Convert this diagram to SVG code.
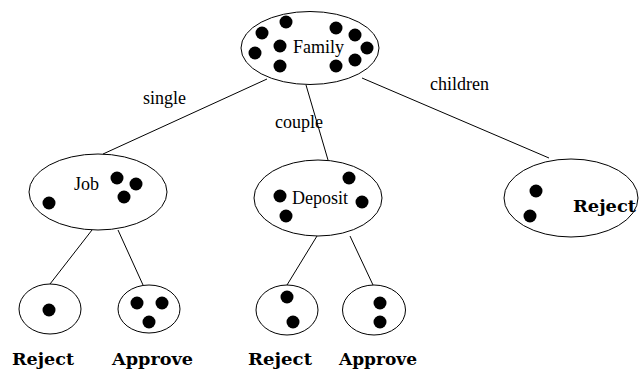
<svg xmlns="http://www.w3.org/2000/svg" width="639" height="370" viewBox="0 0 639 370">
<style>
.n{fill:none;stroke:#000;stroke-width:1}
.d{fill:#000}
.t{font-family:"Liberation Serif","Times New Roman",Times,serif;font-size:18px;fill:#000}
.b{font-family:"DejaVu Serif",serif;font-weight:bold;font-size:17px;fill:#000}
.e{stroke:#000;stroke-width:1;fill:none}
</style>
<rect width="639" height="370" fill="#fff"/>
<g id="connectors">
<line class="e" x1="267" y1="79" x2="103" y2="154"/>
<line class="e" x1="306" y1="85" x2="328" y2="160"/>
<line class="e" x1="362" y1="78" x2="549" y2="158"/>
<line class="e" x1="92" y1="230" x2="50" y2="284"/>
<line class="e" x1="118" y1="230" x2="143" y2="285"/>
<line class="e" x1="317" y1="236" x2="287" y2="285"/>
<line class="e" x1="350" y1="236" x2="373" y2="285"/>
<text class="t" x="143" y="104">single</text>
<text class="t" x="275" y="128">couple</text>
<text class="t" x="430" y="90">children</text>
</g>
<g id="family">
<ellipse class="n" cx="310" cy="48" rx="69" ry="36.5"/>
<circle class="d" cx="286" cy="22" r="6.5"/>
<circle class="d" cx="262" cy="33" r="6.5"/>
<circle class="d" cx="255" cy="53" r="6.5"/>
<circle class="d" cx="280" cy="46" r="6.5"/>
<circle class="d" cx="280" cy="66" r="6.5"/>
<circle class="d" cx="336" cy="28" r="6.5"/>
<circle class="d" cx="355" cy="35" r="6.5"/>
<circle class="d" cx="367" cy="48" r="6.5"/>
<circle class="d" cx="355" cy="60" r="6.5"/>
<circle class="d" cx="336" cy="66" r="6.5"/>
<text class="t" x="293" y="53">Family</text>
</g>
<g id="job">
<ellipse class="n" cx="98" cy="192" rx="69" ry="38"/>
<circle class="d" cx="117" cy="178" r="6.5"/>
<circle class="d" cx="136" cy="184" r="6.5"/>
<circle class="d" cx="124" cy="197" r="6.5"/>
<circle class="d" cx="49" cy="203" r="6.5"/>
<text class="t" x="74" y="190">Job</text>
</g>
<g id="deposit">
<ellipse class="n" cx="318" cy="198" rx="64" ry="38"/>
<circle class="d" cx="349" cy="178" r="6.5"/>
<circle class="d" cx="280" cy="196" r="6.5"/>
<circle class="d" cx="362" cy="202" r="6.5"/>
<circle class="d" cx="286" cy="216" r="6.5"/>
<text class="t" x="292" y="204">Deposit</text>
</g>
<g id="reject-children">
<ellipse class="n" cx="571" cy="198" rx="67" ry="39"/>
<circle class="d" cx="536" cy="191" r="6.5"/>
<circle class="d" cx="530" cy="216" r="6.5"/>
<text class="b" x="573" y="212" textLength="63" lengthAdjust="spacingAndGlyphs">Reject</text>
</g>
<g id="job-reject">
<ellipse class="n" cx="50" cy="309" rx="31" ry="25"/>
<circle class="d" cx="49" cy="310" r="6.5"/>
<text class="b" x="12" y="365" textLength="62" lengthAdjust="spacingAndGlyphs">Reject</text>
</g>
<g id="job-approve">
<ellipse class="n" cx="149" cy="309" rx="31" ry="24"/>
<circle class="d" cx="137" cy="303" r="6.5"/>
<circle class="d" cx="162" cy="303" r="6.5"/>
<circle class="d" cx="149" cy="322" r="6.5"/>
<text class="b" x="112" y="365" textLength="81" lengthAdjust="spacingAndGlyphs">Approve</text>
</g>
<g id="deposit-reject">
<ellipse class="n" cx="287" cy="310" rx="31" ry="25"/>
<circle class="d" cx="287" cy="297" r="6.5"/>
<circle class="d" cx="293" cy="322" r="6.5"/>
<text class="b" x="248" y="365" textLength="64" lengthAdjust="spacingAndGlyphs">Reject</text>
</g>
<g id="deposit-approve">
<ellipse class="n" cx="374" cy="310" rx="31.5" ry="25"/>
<circle class="d" cx="380" cy="303" r="6.5"/>
<circle class="d" cx="380" cy="322" r="6.5"/>
<text class="b" x="339" y="365" textLength="78" lengthAdjust="spacingAndGlyphs">Approve</text>
</g>
</svg>
